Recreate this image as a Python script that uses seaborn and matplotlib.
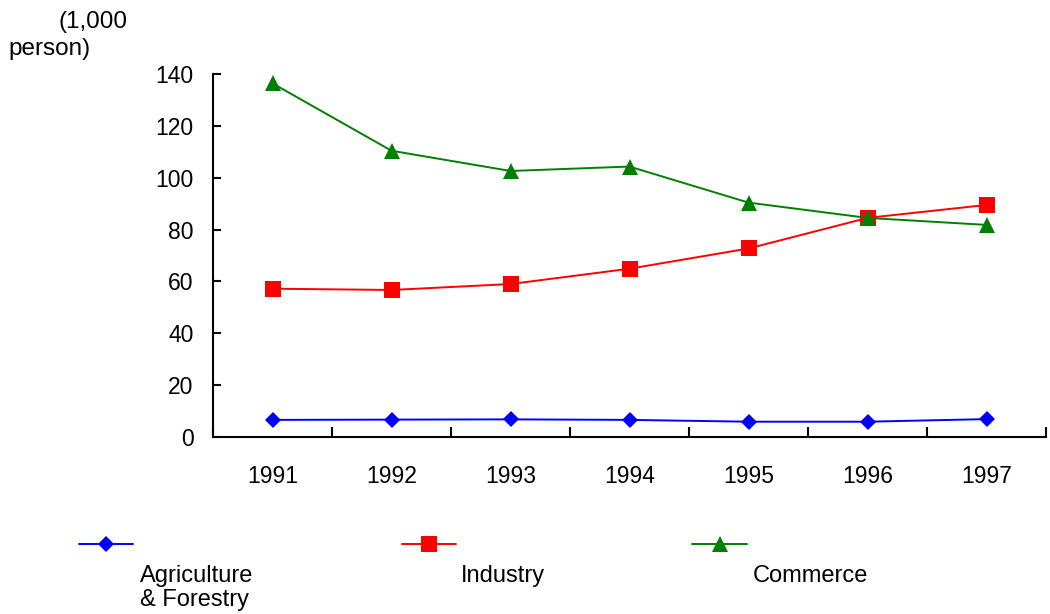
import pandas as pd
import seaborn as sns
import matplotlib.pyplot as plt
from matplotlib.lines import Line2D

# Datos
years = [1991, 1992, 1993, 1994, 1995, 1996, 1997]
agriculture = [6.6, 6.7, 6.8, 6.6, 5.9, 5.9, 6.9]
industry = [57.2, 56.7, 59.0, 64.9, 72.7, 84.5, 89.5]
commerce = [136.4, 110.4, 102.6, 104.3, 90.4, 84.5, 81.8]
series_names = ['Agriculture\n& Forestry', 'Industry', 'Commerce']
colors = ['#0000FF', '#FF0000', '#008000']
markers = ['D', 's', '^']
msizes = [8.5, 11, 11]

df = pd.DataFrame({
    'year': years * 3,
    'value': agriculture + industry + commerce,
    'sector': sum([[n] * len(years) for n in series_names], []),
})

sns.set_style("white")
plt.rcParams['font.family'] = ['Liberation Sans', 'DejaVu Sans']
plt.rcParams['text.color'] = 'black'
plt.rcParams['xtick.color'] = 'black'
plt.rcParams['ytick.color'] = 'black'

fig = plt.figure(figsize=(10.5, 6.14), dpi=100)
ax = fig.add_axes([213 / 1050, 1 - 437 / 614, (1046 - 213) / 1050, (437 - 74) / 614])

for name, c, m, ms in zip(series_names, colors, markers, msizes):
    sns.lineplot(data=df[df['sector'] == name], x='year', y='value', color=c,
                 marker=m, markersize=ms, markeredgewidth=0, linewidth=1.4,
                 ax=ax, legend=False)

ax.set_xlim(1990.5, 1997.5)
ax.set_ylim(0, 140)
ax.set_xticks(years)
ax.set_xticklabels([str(y) for y in years])
ax.set_xticks([y + 0.5 for y in [1990] + years], minor=True)
ax.set_yticks(range(0, 141, 20))
ax.tick_params(axis='x', which='major', bottom=True, length=0, pad=20, labelsize=16.5)
ax.tick_params(axis='x', which='minor', bottom=True, direction='in', length=7, width=1.5)
ax.tick_params(axis='y', direction='in', length=6, width=1.5, pad=14, labelsize=16.5, left=True)
ax.set_xlabel('')
ax.set_ylabel('')
for s in ['top', 'right']:
    ax.spines[s].set_visible(False)
for s in ['left', 'bottom']:
    ax.spines[s].set_color('black')
    ax.spines[s].set_linewidth(1.5)

fig.text(58 / 1050, 1 - 22 / 614, '(1,000', fontsize=17.5, va='center', ha='left')
fig.text(8 / 1050, 1 - 49 / 614, 'person)', fontsize=17.5, va='center', ha='left')

# Leyenda personalizada: linea arriba, texto abajo
key_x = [(79, 133), (402, 456), (692, 747)]
label_x = [140, 461, 753]
for (x0, x1), lx, name, c, m, ms in zip(key_x, label_x, series_names, colors, markers, msizes):
    yk = 1 - 544 / 614
    fig.add_artist(Line2D([x0 / 1050, x1 / 1050], [yk, yk], color=c, linewidth=1.4,
                          transform=fig.transFigure))
    fig.add_artist(Line2D([(x0 + x1) / 2100], [yk], color=c, marker=m, markersize=ms,
                          markeredgewidth=0, transform=fig.transFigure))
    fig.text(lx / 1050, 1 - 565 / 614, name, fontsize=17, va='top', ha='left', linespacing=1.1)

plt.savefig('out.png', dpi=100)
